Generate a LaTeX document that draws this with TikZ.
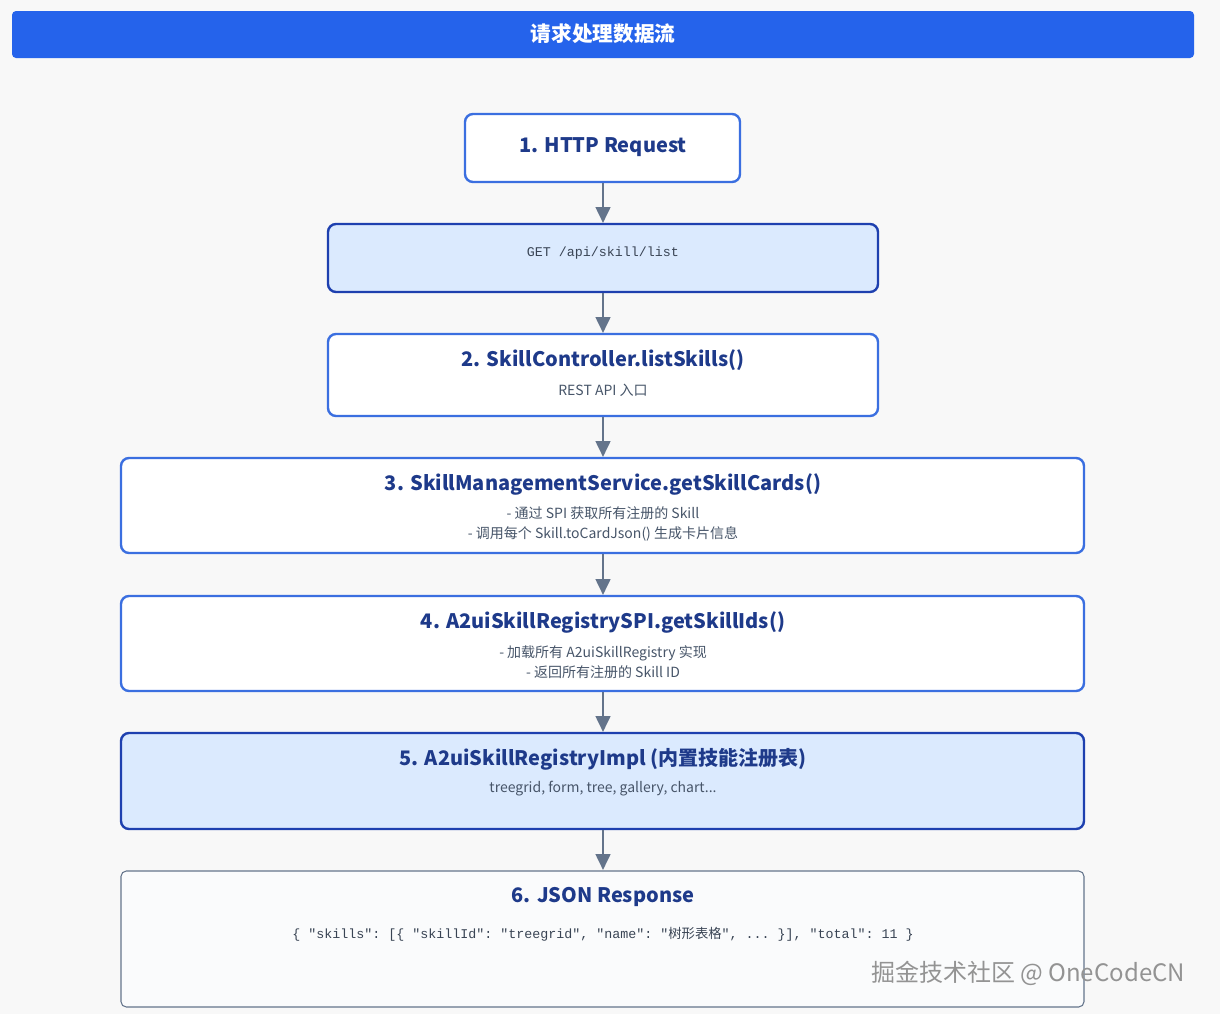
\documentclass[tikz,border=0pt]{standalone}
\usepackage{fontspec}
\setmainfont{Noto Sans CJK SC}
\setmonofont{Liberation Mono}
\newfontfamily\cjk{Noto Sans CJK SC}
\usetikzlibrary{arrows.meta}
\definecolor{bg}{HTML}{F8F8F8}
\definecolor{titlebg}{HTML}{2563EB}
\definecolor{hd}{HTML}{1E3A8A}
\definecolor{bd}{HTML}{3B6FE0}
\definecolor{bdd}{HTML}{1E40AF}
\definecolor{lb}{HTML}{DBEAFE}
\definecolor{gr}{HTML}{64748B}
\definecolor{sub}{HTML}{475569}
\begin{document}
\begin{tikzpicture}[x=0.75pt,y=-0.75pt,
 box/.style={draw=bd,line width=1.8pt,rounded corners=6pt,fill=white},
 dbox/.style={draw=bdd,line width=1.8pt,rounded corners=6pt,fill=lb},
 head/.style={text=hd,font=\fontsize{15}{18}\selectfont\bfseries},
 subt/.style={text=sub,font=\fontsize{10.5}{15.5}\selectfont,align=center},
 mono/.style={text=sub!80!black,font=\ttfamily\fontsize{10}{12}\selectfont},
 arr/.style={draw=gr,line width=2pt,-{Triangle[length=12pt,width=11pt]}}]
\fill[bg] (0,0) rectangle (1220,1014);
\useasboundingbox (0,0) rectangle (1220,1014);
\fill[titlebg,rounded corners=3pt] (12,11) rectangle (1194,58);
\node[text=white,font=\fontsize{15.5}{18}\selectfont\bfseries] (title) at (603,34) {请求处理数据流};
\draw[box] (465,114) rectangle (740,182);
\node[head] (h1) at (603,147) {1. HTTP Request};
\draw[dbox] (328,224) rectangle (878,292);
\node[mono] (h2) at (603,253) {GET /api/skill/list};
\draw[box] (328,334) rectangle (878,416);
\node[head] (h3) at (603,360) {2. SkillController.listSkills()};
\node[subt] (s3) at (603,390) {REST API 入口};
\draw[box] (121,458) rectangle (1084,553);
\node[head] (h4) at (603,484) {3. SkillManagementService.getSkillCards()};
\node[subt] (s4) at (603,524) {- 通过 SPI 获取所有注册的 Skill\\- 调用每个 Skill.toCardJson() 生成卡片信息};
\draw[box] (121,596) rectangle (1084,691);
\node[head] (h5) at (603,622) {4. A2uiSkillRegistrySPI.getSkillIds()};
\node[subt] (s5) at (603,662) {- 加载所有 A2uiSkillRegistry 实现\\- 返回所有注册的 Skill ID};
\draw[dbox] (121,733) rectangle (1084,829);
\node[head] (h6) at (603,759) {5. A2uiSkillRegistryImpl (内置技能注册表)};
\node[subt] (s6) at (603,789) {treegrid, form, tree, gallery, chart...};
\draw[draw=gr,line width=0.8pt,rounded corners=4pt,fill=white!97!gr] (121,871) rectangle (1084,1007);
\node[head] (h7) at (603,897) {6. JSON Response};
\node[mono] (s7) at (603,934) {\{ "skills": [\{ "skillId": "treegrid", "name": "{\cjk 树形表格}", ... \}], "total": 11 \}};
\node[text=gray!85,font=\fontsize{18}{20}\selectfont] (wm) at (1028,973) {掘金技术社区 @ OneCodeCN};
\coordinate (a1) at (603,183); \coordinate (b1) at (603,223);
\coordinate (a2) at (603,293); \coordinate (b2) at (603,333);
\coordinate (a3) at (603,417); \coordinate (b3) at (603,457);
\coordinate (a4) at (603,554); \coordinate (b4) at (603,595);
\coordinate (a5) at (603,692); \coordinate (b5) at (603,732);
\coordinate (a6) at (603,830); \coordinate (b6) at (603,870);
\foreach \i in {1,...,6} \draw[arr] (a\i) -- (b\i);
\end{tikzpicture}
\end{document}
